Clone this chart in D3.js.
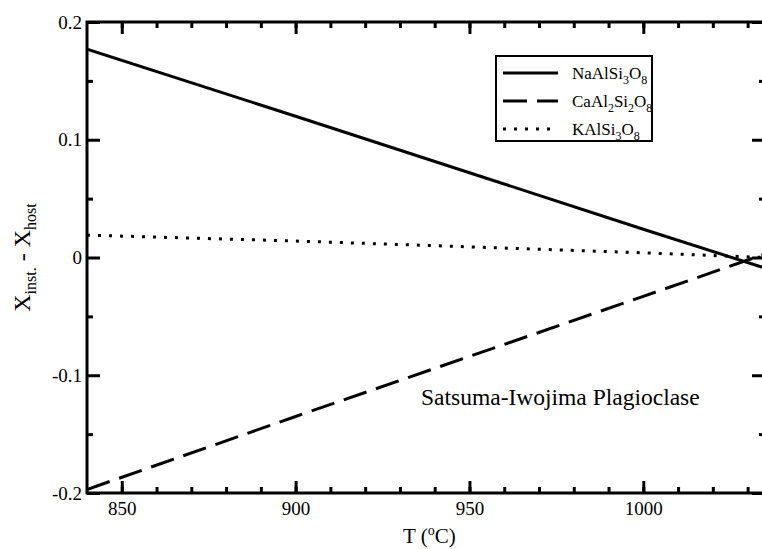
<!DOCTYPE html>
<html>
<head>
<meta charset="utf-8">
<script src="https://cdn.jsdelivr.net/npm/d3@7"></script>
<style>
  body { margin: 0; background: #fff; }
  text { font-family: "Liberation Serif", "Times New Roman", serif; fill: #000; }
</style>
</head>
<body>
<div id="chart"></div>
<script>
// data
var temps  = [840, 900, 950, 1000, 1035];
var naAlSi = [0.177, 0.120, 0.072, 0.024, -0.009];
var caAlSi = [-0.197, -0.135, -0.084, -0.033, 0.003];
var kAlSi  = [0.019, 0.014, 0.009, 0.004, 0.000];

var xMajor = [850, 900, 950, 1000];
var yMajor = [-0.2, -0.1, 0, 0.1, 0.2];
var yLabels = ["-0.2", "-0.1", "0", "0.1", "0.2"];

var seriesNames = [
    [["NaAlSi", 0], ["3", 1], ["O", 0], ["8", 1]],
    [["CaAl", 0], ["2", 1], ["Si", 0], ["2", 1], ["O", 0], ["8", 1]],
    [["KAlSi", 0], ["3", 1], ["O", 0], ["8", 1]]
];
var seriesValues = [naAlSi, caAlSi, kAlSi];
var dashes = [null, "24,10", "3,8"];

var outerWidth = 762, outerHeight = 549;
var margin = { left: 87, top: 22 },
    width = 678,
    height = 471;

var svg = d3.select("#chart").append("svg")
    .attr("width", outerWidth)
    .attr("height", outerHeight);

var x = d3.scaleLinear().domain([840, 1035]).range([0, width]);
var y = d3.scaleLinear().domain([-0.2, 0.2]).range([height, 0]);

var g = svg.append("g")
    .attr("transform", "translate(" + margin.left + "," + margin.top + ")");

g.append("clipPath").attr("id", "clip")
    .append("rect").attr("width", width).attr("height", height);

// lines
var line = d3.line()
    .x(function(d) { return x(d[0]); })
    .y(function(d) { return y(d[1]); });

seriesValues.forEach(function(vals, i) {
    g.append("path")
        .datum(temps.map(function(t, j) { return [t, vals[j]]; }))
        .attr("clip-path", "url(#clip)")
        .attr("fill", "none")
        .attr("stroke", "#000")
        .attr("stroke-width", 3)
        .attr("stroke-dasharray", dashes[i])
        .attr("d", line);
});

// axes, ticks pointing inward
var xMinor = d3.range(850, 1035, 10);
var yMinor = [-0.15, -0.05, 0.05, 0.15];

function styleAxis(sel) {
    sel.select(".domain").remove();
    sel.selectAll(".tick line").attr("stroke", "#000").attr("stroke-width", 3);
    sel.selectAll(".tick text").style("font-size", "19px")
        .style("font-family", '"Liberation Serif", "Times New Roman", serif');
}

g.append("g").attr("transform", "translate(0," + height + ")")
    .call(d3.axisBottom(x).tickValues(xMinor).tickSize(-6).tickFormat(""))
    .call(styleAxis);
g.append("g").attr("transform", "translate(0," + height + ")")
    .call(d3.axisBottom(x).tickValues(xMajor).tickSize(-12).tickPadding(9).tickFormat(d3.format("d")))
    .call(styleAxis);

g.append("g")
    .call(d3.axisTop(x).tickValues(xMinor).tickSize(-6).tickFormat(""))
    .call(styleAxis);
g.append("g")
    .call(d3.axisTop(x).tickValues(xMajor).tickSize(-12).tickFormat(""))
    .call(styleAxis);

g.append("g")
    .call(d3.axisLeft(y).tickValues(yMinor).tickSize(-6).tickFormat(""))
    .call(styleAxis);
g.append("g")
    .call(d3.axisLeft(y).tickValues(yMajor).tickSize(-13).tickPadding(5)
        .tickFormat(function(d, i) { return yLabels[i]; }))
    .call(styleAxis);

g.append("g").attr("transform", "translate(" + width + ",0)")
    .call(d3.axisRight(y).tickValues(yMinor).tickSize(-6).tickFormat(""))
    .call(styleAxis);
g.append("g").attr("transform", "translate(" + width + ",0)")
    .call(d3.axisRight(y).tickValues(yMajor).tickSize(-13).tickFormat(""))
    .call(styleAxis);

// frame
g.append("rect")
    .attr("width", width)
    .attr("height", height)
    .attr("fill", "none")
    .attr("stroke", "#000")
    .attr("stroke-width", 3);

// axis titles
var xt = svg.append("text")
    .attr("x", margin.left + x(950) - 40)
    .attr("y", 543)
    .attr("text-anchor", "middle")
    .style("font-size", "21px");
xt.append("tspan").text("T (");
xt.append("tspan").attr("dy", -8).style("font-size", "14px").text("o");
xt.append("tspan").attr("dy", 8).text("C)");

var yt = svg.append("text")
    .attr("transform", "translate(30," + (margin.top + y(0)) + ") rotate(-90)")
    .attr("text-anchor", "middle")
    .style("font-size", "24px");
yt.append("tspan").text("X");
yt.append("tspan").attr("dy", 6).style("font-size", "16px").text("inst.");
yt.append("tspan").attr("dy", -6).text(" - X");
yt.append("tspan").attr("dy", 6).style("font-size", "16px").text("host");

// annotation
svg.append("text")
    .attr("x", 421)
    .attr("y", 405)
    .style("font-size", "23.5px")
    .text("Satsuma-Iwojima Plagioclase");

// legend
var legend = svg.append("g").attr("transform", "translate(496,56)");
legend.append("rect")
    .attr("width", 156)
    .attr("height", 85)
    .attr("fill", "#fff")
    .attr("stroke", "#000")
    .attr("stroke-width", 2);

var rows = legend.selectAll("g.lgd")
    .data(seriesNames)
    .enter().append("g")
    .attr("class", "lgd")
    .attr("transform", function(d, i) { return "translate(0," + (17 + i * 28) + ")"; });

rows.append("line")
    .attr("x1", 7).attr("x2", 62)
    .attr("stroke", "#000")
    .attr("stroke-width", 3)
    .attr("stroke-dasharray", function(d, i) { return dashes[i]; });

rows.append("text")
    .attr("x", 76)
    .attr("y", 6)
    .style("font-size", "17px")
    .each(function(parts) {
        var t = d3.select(this);
        var shifted = 0;
        parts.forEach(function(p) {
            var dy = p[1] ? 5 - shifted : -shifted;
            shifted += dy;
            t.append("tspan")
                .attr("dy", dy)
                .style("font-size", p[1] ? "12px" : "17px")
                .text(p[0]);
        });
    });
</script>
</body>
</html>
